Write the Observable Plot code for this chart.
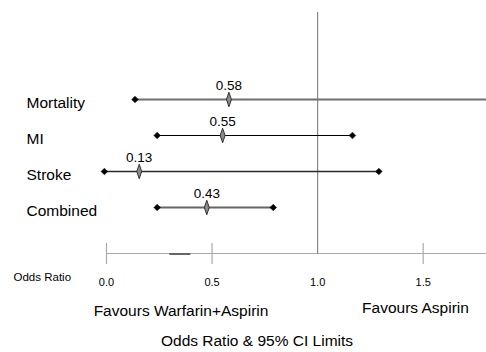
<!DOCTYPE html>
<html>
<head>
<meta charset="utf-8">
<script src="https://cdn.jsdelivr.net/npm/d3@7"></script>
<script src="https://cdn.jsdelivr.net/npm/@observablehq/plot@0.6"></script>
<style>
  html, body { margin: 0; padding: 0; background: #fff; overflow: hidden; }
</style>
</head>
<body>
<div id="chart"></div>
<script>
// ---- data ----
const categories  = ["Mortality", "MI", "Stroke", "Combined"];
const oddsRatio   = [0.58, 0.55, 0.155, 0.475];
const lowerCI     = [0.135, 0.24, -0.01, 0.24];
const upperCI     = [1.9, 1.165, 1.29, 0.79];
const valueLabels = ["0.58", "0.55", "0.13", "0.43"];
const xTicks      = [0, 0.5, 1, 1.5];
const refValue    = [1];
const axisMarkSeg = [[0.30, 0.40]];
const leftNote    = ["Favours Warfarin+Aspirin"];
const rightNote   = ["Favours Aspirin"];
const xTitle      = ["Odds Ratio & 95% CI Limits"];
const sideLabel   = ["Odds Ratio"];

const rows = categories.map((c, i) => ({
  cat: c, or: oddsRatio[i], lo: lowerCI[i], hi: upperCI[i], label: valueLabels[i]
}));

// styles (not data)
const lineStroke = {Mortality: "#707070", MI: "#000", Stroke: "#2a2a2a", Combined: "#666"};
const lineWidth  = {Mortality: 2, MI: 1.2, Stroke: 1.5, Combined: 2};

const thinDiamond = {
  draw(ctx, size) {
    const r = Math.sqrt(size / Math.PI);
    const h = r * 1.45, w = r * 0.5;
    ctx.moveTo(0, -h); ctx.lineTo(w, 0); ctx.lineTo(0, h); ctx.lineTo(-w, 0); ctx.closePath();
  }
};

const FONT = "'Liberation Sans', Arial, Helvetica, sans-serif";

const chart = Plot.plot({
  width: 486,
  height: 352,
  marginLeft: 106,
  marginRight: 0,
  marginTop: 12,
  marginBottom: 98,
  style: {fontFamily: FONT, fontSize: "11px", color: "#000", background: "#fff"},
  x: {domain: [0, 1.8], ticks: xTicks, tickFormat: d3.format(".1f"), tickSize: 0, tickPadding: 24, label: null},
  y: {type: "point", domain: categories, range: [99, 207], padding: 0, axis: null},
  marks: [
    // axis line
    Plot.rect([0], {x1: () => 0, x2: () => 1.8, insetTop: 241, fill: "#aaa"}),
    Plot.rect(axisMarkSeg, {x1: d => d[0], x2: d => d[1], insetTop: 240, dy: 1, fill: "#666"}),
    // tick marks (cross the axis line)
    Plot.ruleX(xTicks.filter(t => t !== 1), {x: d => d, insetTop: 221, dy: 10, stroke: "#aaa", strokeWidth: 1.2}),
    // reference line at OR = 1
    Plot.ruleX(refValue, {x: d => d, stroke: "#888", strokeWidth: 1.2}),
    // CI lines
    Plot.ruleY(rows, {y: "cat", x1: "lo", x2: "hi", stroke: d => lineStroke[d.cat], strokeWidth: d => lineWidth[d.cat]}),
    // CI end markers
    Plot.dot(rows, {x: "lo", y: "cat", symbol: "diamond2", r: 3, fill: "#000", stroke: "#000", strokeWidth: 0.5}),
    Plot.dot(rows, {x: "hi", y: "cat", symbol: "diamond2", r: 3, fill: "#000", stroke: "#000", strokeWidth: 0.5}),
    // point estimates
    Plot.dot(rows, {x: "or", y: "cat", symbol: thinDiamond, r: 5, fill: "#8a8a8a", stroke: "#222", strokeWidth: 0.9}),
    // value labels
    Plot.text(rows, {x: "or", y: "cat", text: "label", dy: -14, fontSize: 13.5, fill: "#000"}),
    // category labels
    Plot.text(categories, {y: d => d, text: d => d, frameAnchor: "left", textAnchor: "start", lineAnchor: "middle", dx: -80, dy: 3.5, fontSize: 15.5, fill: "#000"}),
    // side label for axis
    Plot.text(sideLabel, {text: d => d, frameAnchor: "bottom-left", textAnchor: "start", lineAnchor: "middle", dx: -93, dy: 23, fontSize: 11.5, fill: "#000"}),
    // favours notes
    Plot.text(leftNote, {text: d => d, frameAnchor: "bottom-left", textAnchor: "middle", lineAnchor: "middle", dx: 74.5, dy: 57, fontSize: 15.5, fill: "#000"}),
    Plot.text(rightNote, {text: d => d, frameAnchor: "bottom-right", textAnchor: "middle", lineAnchor: "middle", dx: -71, dy: 54, fontSize: 15.5, fill: "#000"}),
    // x title
    Plot.text(xTitle, {text: d => d, frameAnchor: "bottom", textAnchor: "middle", lineAnchor: "middle", dx: -39.5, dy: 87, fontSize: 15.5, fill: "#000"})
  ]
});
document.getElementById("chart").appendChild(chart);
</script>
</body>
</html>
